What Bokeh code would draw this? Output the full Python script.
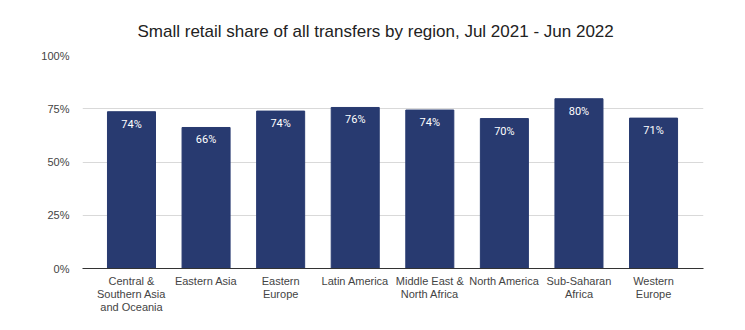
from bokeh.plotting import figure
from bokeh.models import ColumnDataSource, Range1d, FixedTicker, Title, LabelSet
from bokeh.core.properties import value
from bokeh.embed import file_html
from bokeh.resources import INLINE

regions = ["Central &\nSouthern Asia\nand Oceania", "Eastern Asia", "Eastern\nEurope", "Latin America",
           "Middle East &\nNorth Africa", "North America", "Sub-Saharan\nAfrica", "Western\nEurope"]
shares = [73.6, 66.2, 73.9, 75.6, 74.4, 70.4, 79.7, 70.6]
share_labels = ["74%", "66%", "74%", "76%", "74%", "70%", "80%", "71%"]
y_ticks = [0, 25, 50, 75, 100]
y_tick_labels = ["0%", "25%", "50%", "75%", "100%"]

xs = list(range(len(regions)))
src = ColumnDataSource(dict(x=xs, top=shares, lab=share_labels))

p = figure(width=745, height=330, output_backend="svg", toolbar_location=None,
           x_range=Range1d(-0.657, 7.67), y_range=Range1d(0, 100),
           min_border_left=82, min_border_right=42, min_border_top=55, min_border_bottom=62)
p.outline_line_color = None
p.background_fill_color = "white"
p.border_fill_color = "white"

p.vbar(x="x", top="top", width=0.644, source=src, fill_color="#283a70", line_color="#283a70")

labels = LabelSet(x="x", y="top", text="lab", source=src, text_color="white",
                  text_font=value("Roboto"), text_font_size="11px", text_align="center",
                  text_baseline="top", y_offset=-6)
p.add_layout(labels)

p.title = Title(text="Small retail share of all transfers by region, Jul 2021 - Jun 2022",
                align="left", text_font="Liberation Sans", text_font_size="17px",
                text_font_style="normal", text_color="#222222", standoff=30, offset=55)

p.xaxis.ticker = FixedTicker(ticks=xs)
p.xaxis.major_label_overrides = {i: r for i, r in enumerate(regions)}
p.xaxis.major_tick_line_color = None
p.xaxis.minor_tick_line_color = None
p.xaxis.axis_line_color = "#333333"
p.xaxis.major_label_text_font = "Liberation Sans"
p.xaxis.major_label_text_font_size = "11px"
p.xaxis.major_label_text_color = "#444444"
p.xaxis.major_label_text_line_height = 1.1
p.xaxis.major_label_standoff = 0
p.xgrid.grid_line_color = None

p.yaxis.ticker = FixedTicker(ticks=y_ticks)
p.yaxis.major_label_overrides = {t: l for t, l in zip(y_ticks, y_tick_labels)}
p.yaxis.major_tick_line_color = None
p.yaxis.minor_tick_line_color = None
p.yaxis.axis_line_color = None
p.yaxis.major_label_text_font = "Liberation Sans"
p.yaxis.major_label_text_font_size = "11px"
p.yaxis.major_label_text_color = "#444444"
p.yaxis.major_label_standoff = 7
p.ygrid.grid_line_color = "#d9d9d9"
p.ygrid.ticker = FixedTicker(ticks=y_ticks)

open("out.html", "w").write(file_html(p, INLINE))
